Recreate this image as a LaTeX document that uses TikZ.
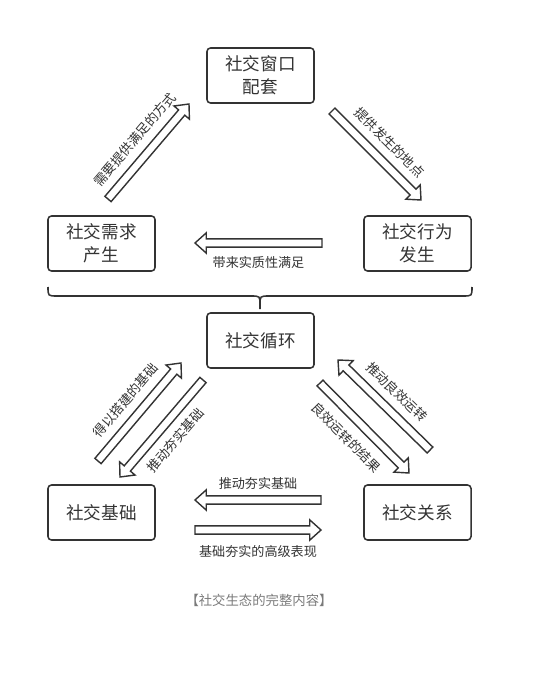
\documentclass[tikz,border=0pt]{standalone}
\usepackage{fontspec}
\newfontfamily\cjk{Noto Sans CJK SC}
\usepackage{tikz}
\usetikzlibrary{calc,positioning}
\definecolor{ink}{HTML}{333333}
\definecolor{note}{HTML}{7A7A7A}
% hollow block arrow from #1 (tail) to #2 (tip)
\newcommand{\hollowarrow}[2]{%
  \draw[hollow] ($(#1)!2.9pt!90:(#2)$)
    -- ($($(#2)!8pt!(#1)$)!2.9pt!90:(#2)$)
    -- ($($(#2)!8pt!(#1)$)!7.2pt!90:(#2)$)
    -- (#2)
    -- ($($(#2)!8pt!(#1)$)!7.2pt!-90:(#2)$)
    -- ($($(#2)!8pt!(#1)$)!2.9pt!-90:(#2)$)
    -- ($(#1)!2.9pt!-90:(#2)$) -- cycle;}

\begin{document}
\begin{tikzpicture}[x=0.025cm,y=-0.025cm,
      box/.style={draw=ink,line width=1.1pt,rounded corners=2.5pt,minimum width=2.675cm,minimum height=1.375cm,align=center,text=ink,font=\cjk\fontsize{12.5}{16.5}\selectfont},
      lbl/.style={text=ink,inner sep=1pt,font=\cjk\fontsize{9.3}{11}\selectfont},
      hollow/.style={draw=ink,fill=white,line width=1pt,line join=miter},
      brace/.style={draw=ink,line width=1.1pt}
    ]
      \useasboundingbox (0,0) rectangle (534,681);
      \node[box] (win) at (260.5,75.5) {社交窗口\\配套};
      \node[box] (need) at (101.5,243.5) {社交需求\\产生};
      \node[box] (act) at (417.5,243.5) {社交行为\\发生};
      \node[box] (loop) at (260.5,340.5) {社交循环};
      \node[box] (base) at (101.5,512.5) {社交基础};
      \node[box] (rel) at (417.5,512.5) {社交关系};
      % upper cycle
      \coordinate (a1s) at (108,199); \coordinate (a1e) at (189,104);
      \coordinate (a2s) at (332,111); \coordinate (a2e) at (421,200);
      \coordinate (a3s) at (322,243); \coordinate (a3e) at (195,243);
      \hollowarrow{a1s}{a1e}
      \hollowarrow{a2s}{a2e}
      \hollowarrow{a3s}{a3e}
      \path (a1s) -- (a1e) node[lbl,midway,sloped,above=7.5pt] (l1) {需要提供满足的方式};
      \path (a2s) -- (a2e) node[lbl,midway,sloped,above=7.5pt] (l2) {提供发生的地点};
      \node[lbl,below=8.5pt] (l3) at ($(a3s)!.5!(a3e)$) {带来实质性满足};
      % brace
      \draw[brace] (48,287) .. controls (48,296) .. (57,296) -- (251,296)
        .. controls (260,296) .. (260,305) -- (260,309)
        (260,305) .. controls (260,296) .. (269,296) -- (463,296)
        .. controls (472,296) .. (472,287);
      % lower cycle
      \coordinate (a4s) at (98,461); \coordinate (a4e) at (181,363);
      \coordinate (a5s) at (203,380); \coordinate (a5e) at (120,477);
      \coordinate (a6s) at (430,450); \coordinate (a6e) at (338,360);
      \coordinate (a7s) at (320,383); \coordinate (a7e) at (409,473);
      \coordinate (a8s) at (321,500); \coordinate (a8e) at (195,500);
      \coordinate (a9s) at (195,530); \coordinate (a9e) at (321,530);
      \hollowarrow{a4s}{a4e}
      \hollowarrow{a5s}{a5e}
      \hollowarrow{a6s}{a6e}
      \hollowarrow{a7s}{a7e}
      \hollowarrow{a8s}{a8e}
      \hollowarrow{a9s}{a9e}
      \path (a4s) -- (a4e) node[lbl,midway,sloped,above=7.5pt] (l4) {得以搭建的基础};
      \path (a5s) -- (a5e) node[lbl,midway,sloped,below=7.5pt] (l5) {推动夯实基础};
      \path (a6s) -- (a6e) node[lbl,midway,sloped,above=7.5pt] (l6) {推动良效运转};
      \path (a7s) -- (a7e) node[lbl,pos=.45,sloped,below=8.5pt] (l7) {良效运转的结果};
      \node[lbl,above=6.5pt] (l8) at ($(a8s)!.5!(a8e)$) {推动夯实基础};
      \node[lbl,below=10pt] (l9) at ($(a9s)!.5!(a9e)$) {基础夯实的高级表现};
      \node[lbl,text=note,font=\cjk\fontsize{9.5}{11}\selectfont] (cap) at (259,600) {【社交生态的完整内容】};
    \end{tikzpicture}
\end{document}
